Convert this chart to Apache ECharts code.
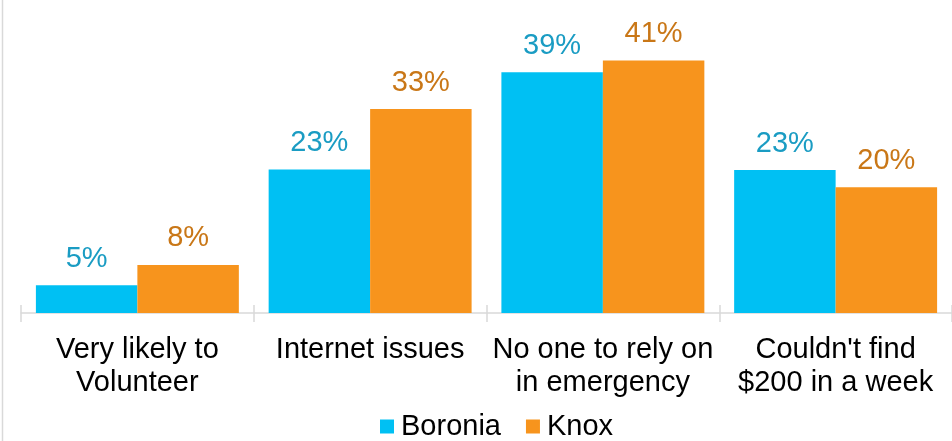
<!DOCTYPE html>
<html>
<head>
<meta charset="utf-8">
<script src="https://cdn.jsdelivr.net/npm/echarts@6/dist/echarts.min.js"></script>
<style>
html,body{margin:0;padding:0;background:#fff;}
#chart{width:952px;height:441px;}
</style>
</head>
<body>
<div id="chart"></div>
<script>
const categories = ['Very likely to\nVolunteer', 'Internet issues', 'No one to rely on\nin emergency', "Couldn't find\n$200 in a week"];
const seriesNames = ['Boronia', 'Knox'];
const boronia = [4.5, 23.3, 39.1, 23.2];
const knox = [7.8, 33.1, 41.0, 20.4];

const FONT = '"Liberation Sans", Arial, sans-serif';
const chart = echarts.init(document.getElementById('chart'));
const labelFmt = p => Math.round(p.value) + '%';

chart.setOption({
  animation: false,
  backgroundColor: '#ffffff',
  graphic: [{
    type: 'line',
    shape: { x1: 2.5, y1: 0, x2: 2.5, y2: 441 },
    style: { stroke: '#d9d9d9', lineWidth: 1.5 }
  }],
  grid: { left: 21, right: -4, top: 5, bottom: 128 },
  legend: {
    data: seriesNames,
    left: 380,
    top: 412,
    padding: 0,
    icon: 'rect',
    itemWidth: 14,
    itemHeight: 14,
    itemGap: 25,
    textStyle: { fontFamily: FONT, fontSize: 29, color: '#000', padding: [0, 0, 0, 2] }
  },
  xAxis: [{
    type: 'category',
    data: categories,
    axisLine: { lineStyle: { color: '#d9d9d9', width: 1.5 } },
    axisTick: { show: true, length: 9, lineStyle: { color: '#d9d9d9', width: 1.5 } },
    axisLabel: { fontFamily: FONT, fontSize: 29, color: '#000', lineHeight: 33, margin: 20, interval: 0 }
  }, {
    type: 'category',
    data: categories,
    position: 'bottom',
    axisLine: { show: false },
    axisTick: { show: true, inside: true, length: 8, lineStyle: { color: '#d9d9d9', width: 1.5 } },
    axisLabel: { show: false }
  }],
  yAxis: {
    type: 'value', min: 0, max: 50, show: false,
    splitLine: { show: false }
  },
  series: [{
    name: 'Boronia', type: 'bar', data: boronia,
    barGap: '0%', barCategoryGap: '12.8%',
    itemStyle: { color: '#00C0F3' },
    label: { show: true, position: 'top', distance: 12, formatter: labelFmt,
      fontFamily: FONT, fontSize: 29, color: '#1A9CC3' }
  }, {
    name: 'Knox', type: 'bar', data: knox,
    barGap: '0%', barCategoryGap: '12.8%',
    itemStyle: { color: '#F7941D' },
    label: { show: true, position: 'top', distance: 12, formatter: labelFmt,
      fontFamily: FONT, fontSize: 29, color: '#C97717' }
  }]
});
</script>
</body>
</html>
